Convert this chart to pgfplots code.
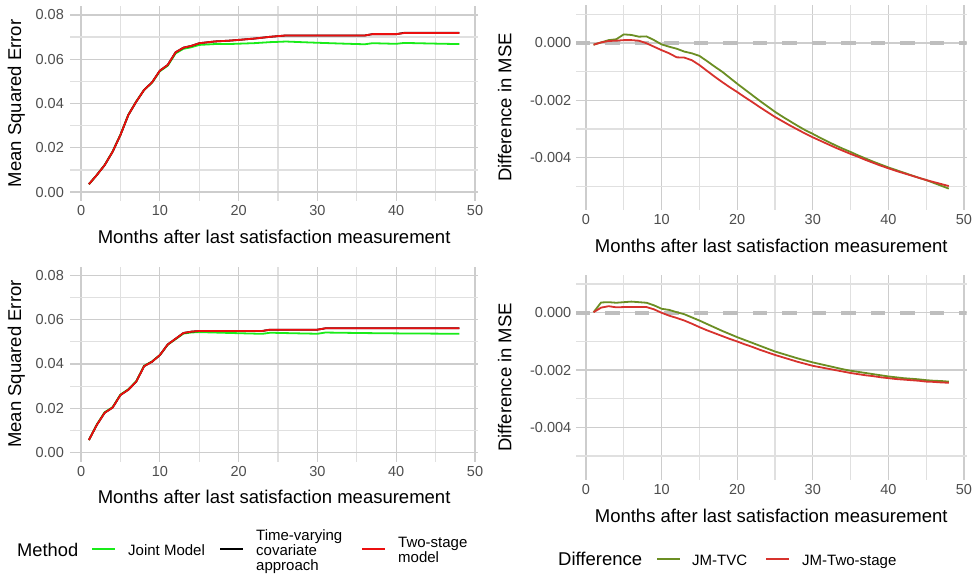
\documentclass[border=0pt]{standalone}
\usepackage{fontspec}
\setmainfont{Liberation Sans}
\usepackage{pgfplots}
\usepackage{pgfplotstable}
\pgfplotsset{compat=1.18}

\definecolor{jmgreen}{RGB}{25,235,25}
\definecolor{tsred}{RGB}{235,15,15}
\definecolor{dolive}{RGB}{107,142,35}
\definecolor{dred}{RGB}{215,50,45}
\definecolor{tickgray}{RGB}{77,77,77}
\definecolor{gridmaj}{RGB}{205,205,205}
\definecolor{gridmin}{RGB}{224,224,224}
\definecolor{zerodash}{RGB}{190,190,190}

% month, Joint Model, Time-varying covariate, Two-stage  (scenario 1)
\pgfplotstableread{
m jm tvc ts
1 0.00354 0.0036 0.0036
2 0.00772 0.0077 0.0077
3 0.01227 0.0122 0.0122
4 0.01828 0.0182 0.0182
5 0.02590 0.0258 0.0258
6 0.03490 0.0348 0.0348
7 0.04088 0.0408 0.0408
8 0.04609 0.0461 0.0461
9 0.04937 0.0495 0.0495
10 0.05455 0.0548 0.0548
11 0.05704 0.0574 0.0574
12 0.06260 0.0631 0.0631
13 0.06469 0.0652 0.0652
14 0.06540 0.0660 0.0660
15 0.06643 0.0672 0.0672
16 0.06663 0.0676 0.0676
17 0.06683 0.0680 0.0680
18 0.06684 0.0682 0.0682
19 0.06686 0.0684 0.0684
20 0.06699 0.0687 0.0687
21 0.06711 0.0690 0.0690
22 0.06724 0.0693 0.0693
23 0.06746 0.0697 0.0697
24 0.06769 0.0701 0.0701
25 0.06782 0.0704 0.0704
26 0.06797 0.0707 0.0707
27 0.06782 0.0707 0.0707
28 0.06768 0.0707 0.0707
29 0.06754 0.0707 0.0707
30 0.06741 0.0707 0.0707
31 0.06729 0.0707 0.0707
32 0.06717 0.0707 0.0707
33 0.06705 0.0707 0.0707
34 0.06694 0.0707 0.0707
35 0.06683 0.0707 0.0707
36 0.06673 0.0707 0.0707
37 0.06722 0.0713 0.0713
38 0.06712 0.0713 0.0713
39 0.06702 0.0713 0.0713
40 0.06693 0.0713 0.0713
41 0.06734 0.07190 0.0718
42 0.06726 0.07190 0.0718
43 0.06718 0.07190 0.0718
44 0.06710 0.07190 0.0718
45 0.06702 0.07190 0.0718
46 0.06695 0.07190 0.0718
47 0.06688 0.07190 0.0718
48 0.06681 0.07190 0.0718
}\tl

% differences, scenario 1
\pgfplotstableread{
m dtvc dts
1 -0.00006 -0.00006
2 0.00002 0.00002
3 0.00010 0.00007
4 0.00013 0.00008
5 0.00030 0.00010
6 0.00028 0.00010
7 0.00022 0.00008
8 0.00023 -0.00001
9 0.00010 -0.00013
10 -0.00005 -0.00025
11 -0.00013 -0.00036
12 -0.00020 -0.00050
13 -0.00030 -0.00051
14 -0.00036 -0.00060
15 -0.00045 -0.00077
16 -0.00063 -0.00097
17 -0.00082 -0.00117
18 -0.00100 -0.00136
19 -0.00121 -0.00154
20 -0.00142 -0.00171
21 -0.00162 -0.00189
22 -0.00182 -0.00206
23 -0.00202 -0.00224
24 -0.00221 -0.00241
25 -0.00240 -0.00258
26 -0.00257 -0.00273
27 -0.00273 -0.00288
28 -0.00289 -0.00302
29 -0.00304 -0.00316
30 -0.00317 -0.00329
31 -0.00331 -0.00341
32 -0.00344 -0.00353
33 -0.00357 -0.00365
34 -0.00369 -0.00376
35 -0.00380 -0.00387
36 -0.00392 -0.00397
37 -0.00403 -0.00408
38 -0.00414 -0.00418
39 -0.00424 -0.00428
40 -0.00434 -0.00437
41 -0.00443 -0.00446
42 -0.00452 -0.00454
43 -0.00461 -0.00462
44 -0.00470 -0.00470
45 -0.00478 -0.00478
46 -0.00488 -0.00485
47 -0.00498 -0.00492
48 -0.00508 -0.00499
}\tr

% scenario 2
\pgfplotstableread{
m jm tvc ts
1 0.00572 0.0057 0.0057
2 0.01268 0.0125 0.0125
3 0.01823 0.0180 0.0180
4 0.02049 0.0203 0.0203
5 0.02620 0.0260 0.0260
6 0.02860 0.0284 0.0284
7 0.03220 0.0320 0.0320
8 0.03920 0.0390 0.0390
9 0.04112 0.0410 0.0410
10 0.04400 0.0440 0.0440
11 0.04870 0.0488 0.0488
12 0.05122 0.0514 0.0514
13 0.05373 0.0540 0.0540
14 0.05422 0.0546 0.0546
15 0.05440 0.0549 0.0549
16 0.05429 0.0549 0.0549
17 0.05419 0.0549 0.0549
18 0.05409 0.0549 0.0549
19 0.05399 0.0549 0.0549
20 0.05390 0.0549 0.0549
21 0.05380 0.0549 0.0549
22 0.05371 0.0549 0.0549
23 0.05361 0.0549 0.0549
24 0.05412 0.0555 0.0555
25 0.05403 0.0555 0.0555
26 0.05395 0.0555 0.0555
27 0.05387 0.0555 0.0555
28 0.05379 0.0555 0.0555
29 0.05372 0.0555 0.0555
30 0.05365 0.0555 0.0555
31 0.05420 0.0561 0.0561
32 0.05415 0.0561 0.0561
33 0.05410 0.0561 0.0561
34 0.05405 0.0561 0.0561
35 0.05400 0.0561 0.0561
36 0.05396 0.0561 0.0561
37 0.05392 0.0561 0.0561
38 0.05389 0.0561 0.0561
39 0.05385 0.0561 0.0561
40 0.05382 0.0561 0.0561
41 0.05379 0.0561 0.0561
42 0.05377 0.0561 0.0561
43 0.05375 0.0561 0.0561
44 0.05373 0.0561 0.0561
45 0.05370 0.0561 0.0561
46 0.05369 0.0561 0.0561
47 0.05367 0.0561 0.0561
48 0.05366 0.0561 0.0561
}\bl

% differences, scenario 2
\pgfplotstableread{
m dtvc dts
1 0.00002 0.00002
2 0.00036 0.00018
3 0.00037 0.00023
4 0.00035 0.00019
5 0.00037 0.00020
6 0.00039 0.00020
7 0.00037 0.00020
8 0.00035 0.00020
9 0.00026 0.00012
10 0.00014 0.00000
11 0.00010 -0.00010
12 0.00002 -0.00018
13 -0.00005 -0.00027
14 -0.00016 -0.00038
15 -0.00027 -0.00050
16 -0.00039 -0.00061
17 -0.00051 -0.00071
18 -0.00063 -0.00081
19 -0.00074 -0.00091
20 -0.00085 -0.00100
21 -0.00095 -0.00110
22 -0.00105 -0.00119
23 -0.00115 -0.00129
24 -0.00125 -0.00138
25 -0.00135 -0.00147
26 -0.00143 -0.00155
27 -0.00151 -0.00163
28 -0.00159 -0.00171
29 -0.00166 -0.00178
30 -0.00173 -0.00185
31 -0.00179 -0.00190
32 -0.00185 -0.00195
33 -0.00191 -0.00200
34 -0.00197 -0.00205
35 -0.00202 -0.00210
36 -0.00206 -0.00214
37 -0.00210 -0.00218
38 -0.00214 -0.00221
39 -0.00218 -0.00225
40 -0.00222 -0.00228
41 -0.00225 -0.00231
42 -0.00228 -0.00233
43 -0.00230 -0.00235
44 -0.00232 -0.00237
45 -0.00235 -0.00240
46 -0.00237 -0.00241
47 -0.00238 -0.00243
48 -0.00240 -0.00244
}\br

\pgfplotsset{
  panel/.style={
    scale only axis, anchor=south west,
    xmin=-1.35, xmax=50.35,
    xtick={0,10,20,30,40,50}, minor xtick={5,15,25,35,45},
    grid=both,
    major grid style={draw=gridmaj, line width=1.3pt},
    minor grid style={draw=gridmin, line width=1.3pt},
    axis line style={draw=none},
    major tick length=0pt, minor tick length=0pt,
    scaled y ticks=false,
    /pgf/number format/assume math mode=true,
    tick label style={font=\fontsize{14.5}{17}\selectfont, text=tickgray},
    xticklabel style={yshift=-1pt},
    xlabel={Months after last satisfaction measurement},
    every axis x label/.style={at={(rel axis cs:0.5,0)}, yshift=-42.3pt, anchor=base,
      font=\fontsize{18.5}{22}\selectfont, text=black},
    every axis plot/.append style={line width=1.8pt, line join=round},
  },
  msepanel/.style={panel,
    width=407.4pt, height=195pt,
    ymin=-0.004, ymax=0.084,
    ytick={0,0.02,0.04,0.06,0.08}, minor ytick={0.01,0.03,0.05,0.07},
    yticklabel style={xshift=-3pt, /pgf/number format/.cd, fixed, fixed zerofill, precision=2},
    ylabel={Mean Squared Error},
    every axis y label/.style={at={(rel axis cs:0,0.5)}, xshift=-54pt, rotate=90, anchor=center,
      font=\fontsize{18.5}{22}\selectfont, text=black},
  },
  diffpanel/.style={panel,
    width=390.8pt, height=205pt,
    ymin=-0.005825, ymax=0.001325,
    ytick={-0.004,-0.002,0}, yticklabels={-0.004,-0.002,0.000},
    minor ytick={-0.005,-0.003,-0.001,0.001},
    yticklabel style={xshift=-1pt},
    ylabel={Difference in MSE},
    every axis y label/.style={at={(rel axis cs:0,0.5)}, xshift=-71pt, rotate=90, anchor=center,
      font=\fontsize{18.5}{22}\selectfont, text=black},
  },
}

\begin{document}
\begin{tikzpicture}
\useasboundingbox (0pt,0pt) rectangle (980pt,576pt);

% top left
\begin{axis}[msepanel, at={(70.4pt,375pt)}]
\addplot[jmgreen] table[x=m, y=jm] {\tl};
\addplot[black] table[x=m, y=tvc] {\tl};
\addplot[tsred] table[x=m, y=ts] {\tl};
\end{axis}

% bottom left
\begin{axis}[msepanel, at={(70.4pt,114.5pt)}]
\addplot[jmgreen] table[x=m, y=jm] {\bl};
\addplot[black] table[x=m, y=tvc] {\bl};
\addplot[tsred] table[x=m, y=ts] {\bl};
\end{axis}

% top right
\begin{axis}[diffpanel, at={(575.8pt,366pt)}]
\addplot[zerodash, line width=4pt, dash pattern=on 14.5pt off 15pt] coordinates {(-1.35,0) (50.35,0)};
\addplot[dolive] table[x=m, y=dtvc] {\tr};
\addplot[dred] table[x=m, y=dts] {\tr};
\end{axis}

% bottom right
\begin{axis}[diffpanel, at={(575.8pt,96.2pt)}]
\addplot[zerodash, line width=4pt, dash pattern=on 14.5pt off 15pt] coordinates {(-1.35,0) (50.35,0)};
\addplot[dolive] table[x=m, y=dtvc] {\br};
\addplot[dred] table[x=m, y=dts] {\br};
\end{axis}

% legend keys
\draw[draw=jmgreen, line width=2pt] (92pt,27pt) -- (115pt,27pt);
\draw[draw=black, line width=2pt] (220pt,27pt) -- (243pt,27pt);
\draw[draw=tsred, line width=2pt] (362pt,27pt) -- (385pt,27pt);
\draw[draw=dolive, line width=2pt] (657pt,16.7pt) -- (680pt,16.7pt);
\draw[draw=dred, line width=2pt] (766pt,16.7pt) -- (789pt,16.7pt);

% legend texts
\begin{scope}[every node/.style={inner sep=0pt, anchor=base west, font=\fontsize{15}{15}\selectfont}]
\node[font=\fontsize{18.3}{20}\selectfont] at (17pt,19.5pt) {Method};
\node at (128pt,21pt) {Joint Model};
\node at (256pt,36pt) {Time-varying};
\node at (256pt,21pt) {covariate};
\node at (256pt,6pt) {approach};
\node at (398pt,28.5pt) {Two-stage};
\node at (398pt,13.5pt) {model};
\node[font=\fontsize{18.5}{20}\selectfont] at (558pt,10.4pt) {Difference};
\node at (692pt,11pt) {JM-TVC};
\node at (802pt,11pt) {JM-Two-stage};
\end{scope}
\end{tikzpicture}
\end{document}
